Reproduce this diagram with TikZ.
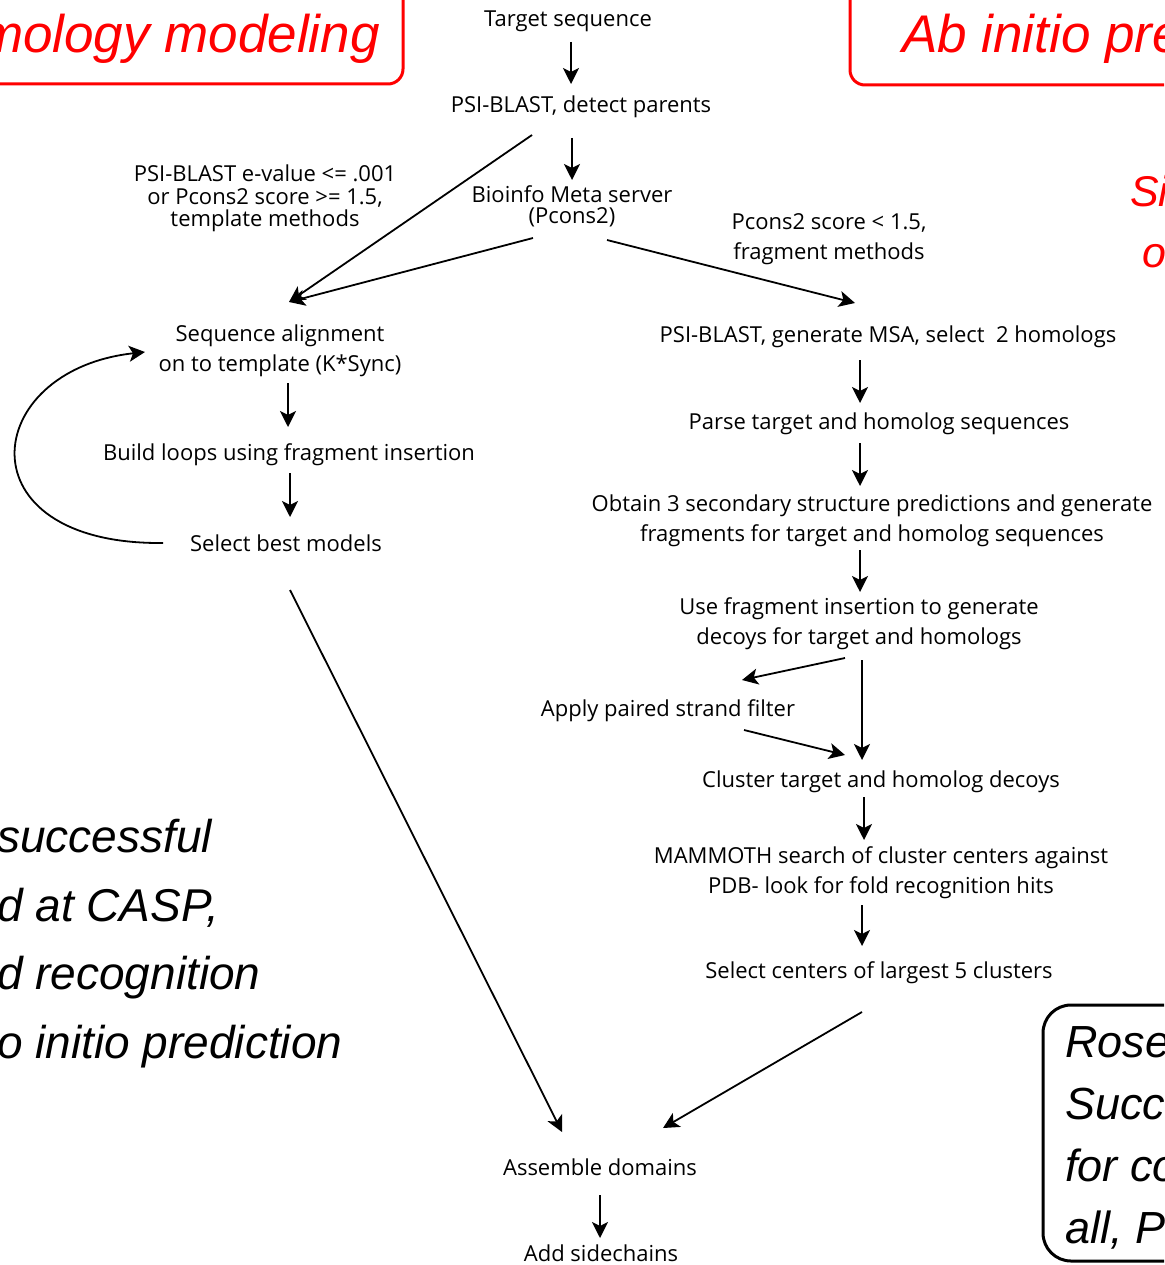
\documentclass[tikz,border=0pt]{standalone}
\usepackage{fontspec}
\setmainfont{Open Sans}
\newfontfamily\arialfont{Liberation Sans}
\definecolor{BannerRed}{RGB}{255,0,0}
\usetikzlibrary{arrows.meta,calc}

\begin{document}
\begin{tikzpicture}[x=1pt, y=-1pt,
      every node/.style={inner sep=0pt, anchor=base},
      flow/.style={font=\fontsize{22}{30}\selectfont, align=center},
      tight/.style={font=\fontsize{22}{21}\selectfont, align=center},
      banner/.style={draw=BannerRed, line width=3pt, rounded corners=15pt},
      bannertext/.style={font=\arialfont\itshape\fontsize{53}{60}\selectfont, text=BannerRed},
      redside/.style={font=\arialfont\itshape\fontsize{43}{60}\selectfont, text=BannerRed},
      remark/.style={font=\arialfont\itshape\fontsize{46}{68.5}\selectfont, align=left},
      arr/.style={-{Stealth[length=16pt,width=16pt,inset=4pt]}, line width=1.8pt}
  ]
    \useasboundingbox (0,0) rectangle (1164,1265);
    \clip (0,0) rectangle (1164,1265);

    % frames and slide text
    \draw[banner] (-30,-30) rectangle (403,84);
    \draw[banner] (850,-30) rectangle (1200,85);
    \draw[line width=3pt, rounded corners=28pt] (1043,1005) rectangle (1220,1261);
    \node[bannertext, anchor=base east] (homtitle) at (380,53) {mology modeling};
    \node[bannertext, anchor=base west] (abtitle) at (902,53) {Ab initio pre};
    \node[redside, anchor=base west] (sinote) at (1130,207) {Si};
    \node[redside, anchor=base west] (onote) at (1142,267) {o};
    \node[remark, anchor=base west] (casp) at (-3,1058) {successful\\d at CASP,\\d recognition\\o initio prediction};
    \node[remark, anchor=base west, font=\arialfont\itshape\fontsize{45}{62}\selectfont] (rosetta) at (1065,1243) {Rose\\Succe\\for co\\all, Pr};

    % flow (multi-line nodes sit on their last line)
    \node[flow] (tgt) at (568,27) {Target sequence};
    \node[flow] (parents) at (581,113) {PSI-BLAST, detect parents};
    \node[tight] (bioinfo) at (572,224) {Bioinfo Meta server\\(Pcons2)};
    \node[tight, font=\fontsize{22}{22.5}\selectfont] (tmpl) at (265,227) {PSI-BLAST e-value <= .001\\or Pcons2 score >= 1.5,\\template methods};
    \node[flow] (fragm) at (829,259) {Pcons2 score < 1.5,\\fragment methods};
    \node[flow] (seqal) at (280,371) {Sequence alignment\\on to template (K*Sync)};
    \node[flow] (loops) at (289,460) {Build loops using fragment insertion};
    \node[flow] (best) at (286,551) {Select best models};
    \node[flow] (msa) at (888,342) {PSI-BLAST, generate MSA, select~ 2 homologs};
    \node[flow] (parse) at (879,429) {Parse target and homolog sequences};
    \node[flow] (obtain) at (872,541) {Obtain 3 secondary structure predictions and generate\\fragments for target and homolog sequences};
    \node[flow] (decoys) at (859,644) {Use fragment insertion to generate\\decoys for target and homologs};
    \node[flow] (filter) at (668,716) {Apply paired strand filter};
    \node[flow] (cluster) at (881,787) {Cluster target and homolog decoys};
    \node[flow] (mammoth) at (881,893) {MAMMOTH search of cluster centers against\\PDB- look for fold recognition hits};
    \node[flow] (centers) at (879,978) {Select centers of largest 5 clusters};
    \node[flow] (assemble) at (600,1175) {Assemble domains};
    \node[flow] (sidech) at (601,1261) {Add sidechains};

    \draw[arr] ([shift={(3,15)}]tgt.base) -- ([shift={(-10,-29)}]parents.base);
    \draw[arr] ([shift={(-9,25)}]parents.base) -- ([shift={(0,-44)}]bioinfo.base);
    \draw[arr] ([shift={(-49,22)}]parents.base) -- ([shift={(9,-69)}]seqal.base);
    \draw[arr] ([shift={(-39,14)}]bioinfo.base) -- ([shift={(9,-69)}]seqal.base);
    \draw[arr] ([shift={(35,16)}]bioinfo.base) -- ([shift={(-33,-39)}]msa.base);
    \draw[arr] ([shift={(8,12)}]seqal.base) -- ([shift={(-1,-33)}]loops.base);
    \draw[arr] ([shift={(1,13)}]loops.base) -- ([shift={(4,-34)}]best.base);
    \draw[arr] ([shift={(-123,-8)}]best.base) .. controls +(-203,2) and +(-165,18) .. ([shift={(-135,-19)}]seqal.base);
    \draw[arr] ([shift={(4,39)}]best.base) -- ([shift={(-38,-43)}]assemble.base);
    \draw[arr] ([shift={(-28,18)}]msa.base) -- ([shift={(-19,-26)}]parse.base);
    \draw[arr] ([shift={(-19,14)}]parse.base) -- ([shift={(-12,-55)}]obtain.base);
    \draw[arr] ([shift={(-12,9)}]obtain.base) -- ([shift={(1,-52)}]decoys.base);
    \draw[arr] ([shift={(-14,14)}]decoys.base) -- ([shift={(74,-36)}]filter.base);
    \draw[arr] ([shift={(3,16)}]decoys.base) -- ([shift={(-19,-27)}]cluster.base);
    \draw[arr] ([shift={(76,14)}]filter.base) -- ([shift={(-36,-32)}]cluster.base);
    \draw[arr] ([shift={(-17,10)}]cluster.base) -- ([shift={(-17,-53)}]mammoth.base);
    \draw[arr] ([shift={(-19,12)}]mammoth.base) -- ([shift={(-17,-32)}]centers.base);
    \draw[arr] ([shift={(-17,34)}]centers.base) -- ([shift={(63,-47)}]assemble.base);
    \draw[arr] ([shift={(0,20)}]assemble.base) -- ([shift={(-1,-23)}]sidech.base);
\end{tikzpicture}
\end{document}
